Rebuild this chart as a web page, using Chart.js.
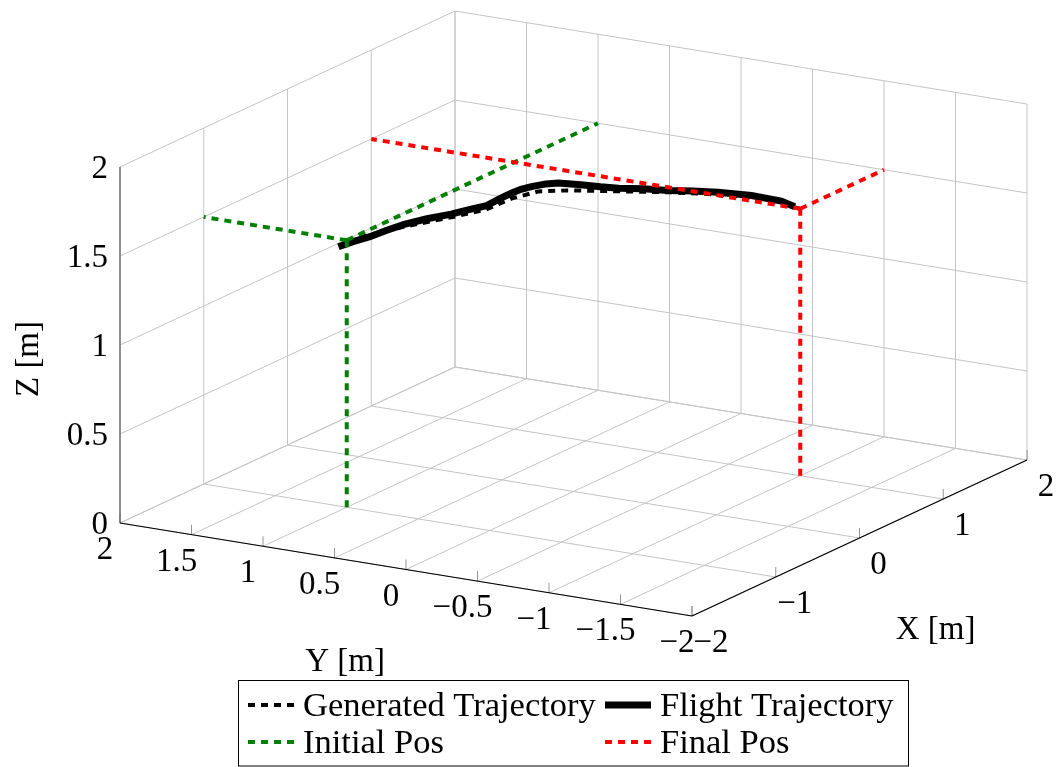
<!DOCTYPE html>
<html>
<head>
<meta charset="utf-8">
<script src="https://cdn.jsdelivr.net/npm/chart.js"></script>
<style>
  html, body { margin: 0; padding: 0; background: #fff; }
  canvas { display: block; }
</style>
</head>
<body>
<canvas id="myChart1" width="1058" height="767"></canvas>
<script>
// trajectories, in metres
var genX = [-1.00, -0.58, -0.23, 0.01, 0.30, 0.52, 0.63, 0.77, 0.91, 1.02, 1.07, 1.00];
var genY = [1.00, 0.86, 0.71, 0.62, 0.61, 0.55, 0.41, 0.14, -0.14, -0.42, -0.67, -1.00];
var genZ = [1.50, 1.50, 1.50, 1.50, 1.50, 1.50, 1.50, 1.50, 1.50, 1.50, 1.50, 1.50];

var flightX = [-1.15, -1.02, -0.86, -0.70, -0.52, -0.35, -0.18, -0.04, 0.09, 0.25, 0.40, 0.50, 0.59,
               0.68, 0.74, 0.77, 0.80, 0.83, 0.89, 0.94, 1.00, 1.06, 1.10, 1.08, 1.02];
var flightY = [0.97, 0.95, 0.92, 0.90, 0.88, 0.82, 0.75, 0.70, 0.66, 0.665, 0.67, 0.66, 0.64,
               0.59, 0.54, 0.40, 0.28, 0.17, 0.03, -0.11, -0.25, -0.39, -0.60, -0.82, -0.95];
var flightZ = [1.500, 1.502, 1.500, 1.502, 1.500, 1.502, 1.500, 1.502, 1.500, 1.502, 1.500, 1.502, 1.500,
               1.502, 1.500, 1.502, 1.500, 1.500, 1.502, 1.500, 1.502, 1.500, 1.500, 1.502, 1.500];

var initPos = [-1, 1, 1.5];
var finalPos = [1, -1, 1.5];

var xTicks = [-2, -1, 0, 1, 2];
var yTicks = [2, 1.5, 1, 0.5, 0, -0.5, -1, -1.5, -2];
var zTicks = [0, 0.5, 1, 1.5, 2];
var xTickLabels = ["\u22122", "\u22121", "0", "1", "2"];
var yTickLabels = ["2", "1.5", "1", "0.5", "0", "\u22120.5", "\u22121", "\u22121.5", "\u22122"];
var zTickLabels = ["0", "0.5", "1", "1.5", "2"];

var box = {xmin: -2, xmax: 2, ymin: -2, ymax: 2, zmin: 0, zmax: 2};

// view: where the x, y, z unit vectors land on the page
var view = {ox: 573.5, oy: 491.5, ex: [83.75, -39], ey: [-143, -23.25], ez: [0, -178]};

function proj(x, y, z) {
  return {
    x: view.ox + view.ex[0] * x + view.ey[0] * y + view.ez[0] * z,
    y: view.oy + view.ex[1] * x + view.ey[1] * y + view.ez[1] * z
  };
}

var GRID = "rgb(196,196,196)";
var GREEN = "rgb(0,128,0)";
var RED = "rgb(255,0,0)";

function seg(p, q, color, width, dash, order) {
  return {
    data: [proj(p[0], p[1], p[2]), proj(q[0], q[1], q[2])],
    showLine: true,
    borderColor: color,
    borderWidth: width,
    borderDash: dash || [],
    pointRadius: 0,
    fill: false,
    order: order
  };
}

var datasets = [];
var i, v;

// floor grid
for (i = 0; i < yTicks.length; i++) {
  v = yTicks[i];
  datasets.push(seg([box.xmin, v, 0], [box.xmax, v, 0], GRID, 1, null, 20));
}
for (i = 0; i < xTicks.length; i++) {
  v = xTicks[i];
  datasets.push(seg([v, box.ymin, 0], [v, box.ymax, 0], GRID, 1, null, 20));
}
// back wall y = 2
for (i = 0; i < xTicks.length; i++) {
  v = xTicks[i];
  datasets.push(seg([v, box.ymax, box.zmin], [v, box.ymax, box.zmax], GRID, 1, null, 20));
}
for (i = 0; i < zTicks.length; i++) {
  v = zTicks[i];
  datasets.push(seg([box.xmin, box.ymax, v], [box.xmax, box.ymax, v], GRID, 1, null, 20));
}
// back wall x = 2
for (i = 0; i < yTicks.length; i++) {
  v = yTicks[i];
  datasets.push(seg([box.xmax, v, box.zmin], [box.xmax, v, box.zmax], GRID, 1, null, 20));
}
for (i = 0; i < zTicks.length; i++) {
  v = zTicks[i];
  datasets.push(seg([box.xmax, box.ymin, v], [box.xmax, box.ymax, v], GRID, 1, null, 20));
}
// tick marks
for (i = 0; i < yTicks.length; i++) {
  v = yTicks[i];
  datasets.push(seg([box.xmin, v, 0], [box.xmin, v, 0.056], "rgb(150,150,150)", 1, null, 19));
}
for (i = 0; i < xTicks.length; i++) {
  v = xTicks[i];
  datasets.push(seg([v, box.ymin, 0], [v, box.ymin, 0.056], "rgb(150,150,150)", 1, null, 19));
}
// axis lines
datasets.push(seg([box.xmin, box.ymax, 0], [box.xmin, box.ymin, 0], "#000", 1.2, null, 18));
datasets.push(seg([box.xmin, box.ymin, 0], [box.xmax, box.ymin, 0], "#000", 1.2, null, 18));
datasets.push(seg([box.xmin, box.ymax, box.zmin], [box.xmin, box.ymax, box.zmax], "rgb(90,90,90)", 1.2, null, 18));

// trajectories
datasets.push({
  label: "Generated Trajectory",
  data: genX.map(function (x, k) { return proj(x, genY[k], genZ[k]); }),
  showLine: true, borderColor: "#000", borderWidth: 4, borderDash: [7, 6],
  pointRadius: 0, fill: false, order: 4
});
datasets.push({
  label: "Flight Trajectory",
  data: flightX.map(function (x, k) { return proj(x, flightY[k], flightZ[k]); }),
  showLine: true, borderColor: "#000", borderWidth: 7,
  pointRadius: 0, fill: false, order: 3
});

// initial / final position guides
datasets.push(seg(initPos, [initPos[0], initPos[1], box.zmin], GREEN, 4, [7, 6], 2));
datasets.push(seg(initPos, [initPos[0], box.ymax, initPos[2]], GREEN, 4, [7, 6], 2));
datasets.push(seg(initPos, [box.xmax, initPos[1], initPos[2]], GREEN, 4, [7, 6], 2));
datasets.push(seg(finalPos, [finalPos[0], finalPos[1], box.zmin], RED, 4, [7, 6], 1));
datasets.push(seg(finalPos, [finalPos[0], box.ymax, finalPos[2]], RED, 4, [7, 6], 1));
datasets.push(seg(finalPos, [box.xmax, finalPos[1], finalPos[2]], RED, 4, [7, 6], 1));

var FONT = '33px "Liberation Serif", "Times New Roman", serif';
var LEGEND_FONT = '34.5px "Liberation Serif", "Times New Roman", serif';

var axisText = {
  id: "axisText",
  afterDatasetsDraw: function (chart) {
    var ctx = chart.ctx;
    var sx = chart.scales.x, sy = chart.scales.y;
    function px(p) { return [sx.getPixelForValue(p.x), sy.getPixelForValue(p.y)]; }
    ctx.save();
    ctx.font = FONT;
    ctx.fillStyle = "#000";
    ctx.textBaseline = "alphabetic";
    ctx.textAlign = "center";
    var k, p;
    for (k = 0; k < yTicks.length; k++) {
      p = px(proj(box.xmin, yTicks[k], 0));
      ctx.fillText(yTickLabels[k], p[0] - 15, p[1] + 36);
    }
    for (k = 0; k < xTicks.length; k++) {
      p = px(proj(xTicks[k], box.ymin, 0));
      ctx.fillText(xTickLabels[k], p[0] + 19, p[1] + 36);
    }
    ctx.textAlign = "right";
    for (k = 0; k < zTicks.length; k++) {
      p = px(proj(box.xmin, box.ymax, zTicks[k]));
      ctx.fillText(zTickLabels[k], p[0] - 12, p[1] + 11);
    }
    // axis titles
    ctx.textAlign = "center";
    p = px(proj(box.xmin, 0, 0));
    ctx.fillText("Y [m]", p[0] - 61, p[1] + 101);
    p = px(proj(0, box.ymin, 0));
    ctx.fillText("X [m]", p[0] + 76, p[1] + 101);
    p = px(proj(box.xmin, box.ymax, 1));
    ctx.translate(p[0] - 91, p[1] + 14);
    ctx.rotate(-Math.PI / 2);
    ctx.textBaseline = "middle";
    ctx.fillText("Z [m]", 0, 0);
    ctx.restore();
  }
};

var legendItems = [
  {text: "Generated Trajectory", color: "#000", width: 4, dash: [7, 6]},
  {text: "Flight Trajectory", color: "#000", width: 7, dash: []},
  {text: "Initial Pos", color: GREEN, width: 4, dash: [7, 6]},
  {text: "Final Pos", color: RED, width: 4, dash: [7, 6]}
];

var boxLegend = {
  id: "boxLegend",
  afterDraw: function (chart) {
    var ctx = chart.ctx;
    var left = 238.5, top = 680.5, w = 670, h = 85.5;
    var cols = [248, 605], rows = [705, 742];
    ctx.save();
    ctx.strokeStyle = "#000";
    ctx.lineWidth = 1;
    ctx.strokeRect(left, top, w, h);
    ctx.font = LEGEND_FONT;
    ctx.textAlign = "left";
    ctx.textBaseline = "middle";
    legendItems.forEach(function (it, k) {
      var cx = cols[k % 2], cy = rows[Math.floor(k / 2)];
      ctx.beginPath();
      ctx.setLineDash(it.dash);
      ctx.strokeStyle = it.color;
      ctx.lineWidth = it.width;
      ctx.moveTo(cx, cy);
      ctx.lineTo(cx + 46, cy);
      ctx.stroke();
      ctx.setLineDash([]);
      ctx.fillStyle = "#000";
      ctx.fillText(it.text, cx + 55, cy + 2);
    });
    ctx.restore();
  }
};

var ctx = document.getElementById("myChart1").getContext("2d");
var chart = new Chart(ctx, {
  type: "scatter",
  data: { datasets: datasets },
  options: {
    responsive: false,
    animation: false,
    events: [],
    layout: { padding: 0 },
    plugins: { legend: { display: false }, tooltip: { enabled: false } },
    scales: {
      x: { type: "linear", min: 0, max: 1058, display: false },
      y: { type: "linear", min: 0, max: 767, reverse: true, display: false }
    }
  },
  plugins: [axisText, boxLegend]
});
</script>
</body>
</html>
